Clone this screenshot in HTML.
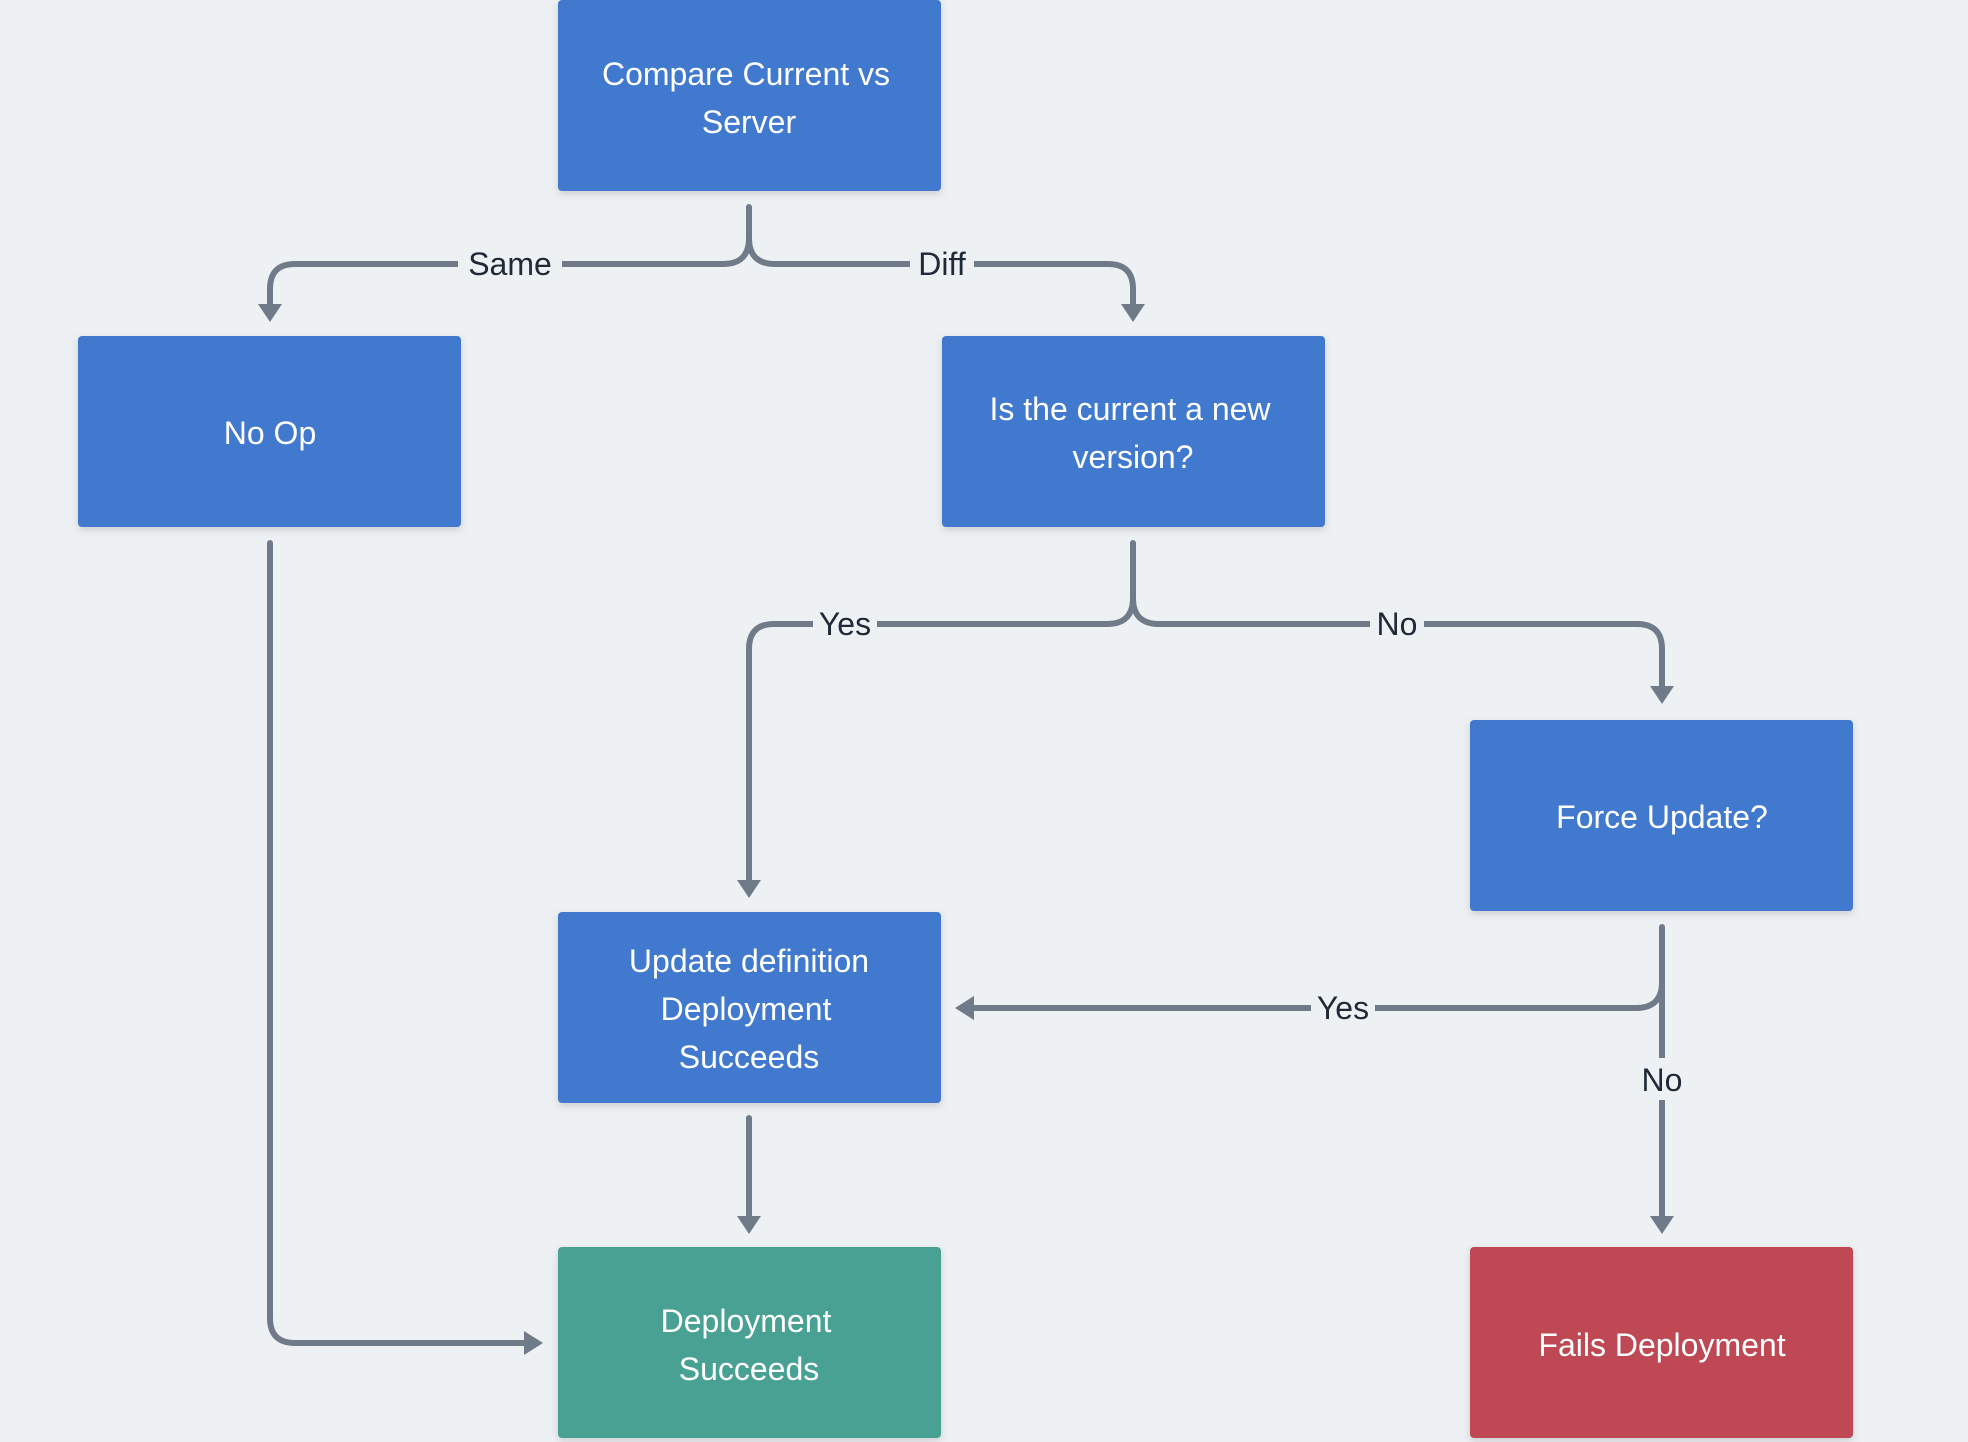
<!DOCTYPE html>
<html><head><meta charset="utf-8"><style>
html,body{margin:0;padding:0;background:#eef1f4;}
svg{display:block}
.n{font-family:"Liberation Sans",sans-serif;font-size:32px;fill:#fff;text-anchor:middle}
.l{font-family:"Liberation Sans",sans-serif;font-size:32px;fill:#1f2937;text-anchor:middle}
.c{fill:none;stroke:#707b89;stroke-width:6;stroke-linecap:round;stroke-linejoin:round}
.a{fill:#707b89}
</style></head><body>
<svg width="1968" height="1442" viewBox="0 0 1968 1442">
<rect width="1968" height="1442" fill="#eef1f4"/>
<defs><filter id="s" x="-10%" y="-10%" width="120%" height="130%"><feDropShadow dx="0" dy="3" stdDeviation="4" flood-opacity="0.15"/></filter></defs>
<g filter="url(#s)">
<rect x="558" y="0" width="383" height="191" rx="4" fill="#4179ce"/>
<rect x="78" y="336" width="383" height="191" rx="4" fill="#4179ce"/>
<rect x="942" y="336" width="383" height="191" rx="4" fill="#4179ce"/>
<rect x="1470" y="720" width="383" height="191" rx="4" fill="#4179ce"/>
<rect x="558" y="912" width="383" height="191" rx="4" fill="#4179ce"/>
<rect x="558" y="1247" width="383" height="191" rx="4" fill="#4aa194"/>
<rect x="1470" y="1247" width="383" height="191" rx="4" fill="#be4a55"/>
</g>
<text class="n" x="746" y="85">Compare Current vs</text>
<text class="n" x="749" y="133">Server</text>
<text class="n" x="270" y="444">No Op</text>
<text class="n" x="1130" y="420">Is the current a new</text>
<text class="n" x="1133" y="468">version?</text>
<text class="n" x="1662" y="828">Force Update?</text>
<text class="n" x="749" y="972">Update definition</text>
<text class="n" x="746" y="1020">Deployment</text>
<text class="n" x="749" y="1068">Succeeds</text>
<text class="n" x="746" y="1332">Deployment</text>
<text class="n" x="749" y="1380">Succeeds</text>
<text class="n" x="1662" y="1356">Fails Deployment</text>

<path class="c" d="M749 207 V238 Q749 264 723 264 H295 Q270 264 270 289 V308"/>
<path class="c" d="M749 238 Q749 264 775 264 H1108 Q1133 264 1133 289 V308"/>
<polygon class="a" points="258,304 282,304 270,322"/>
<polygon class="a" points="1121,304 1145,304 1133,322"/>
<rect x="458" y="246" width="104" height="36" fill="#eef1f4"/>
<text class="l" x="510" y="275">Same</text>
<rect x="910" y="246" width="64" height="36" fill="#eef1f4"/>
<text class="l" x="942" y="275">Diff</text>

<path class="c" d="M270 543 V1318 Q270 1343 295 1343 H526"/>
<polygon class="a" points="524,1331 524,1355 543,1343"/>

<path class="c" d="M1133 543 V598 Q1133 624 1107 624 H774 Q749 624 749 649 V882"/>
<path class="c" d="M1133 598 Q1133 624 1159 624 H1637 Q1662 624 1662 649 V688"/>
<polygon class="a" points="737,880 761,880 749,898"/>
<polygon class="a" points="1650,686 1674,686 1662,704"/>
<rect x="813" y="606" width="64" height="36" fill="#eef1f4"/>
<text class="l" x="845" y="635">Yes</text>
<rect x="1370" y="606" width="54" height="36" fill="#eef1f4"/>
<text class="l" x="1397" y="635">No</text>

<path class="c" d="M1662 927 V982 Q1662 1008 1636 1008 H972"/>
<polygon class="a" points="974,996 974,1020 955,1008"/>
<path class="c" d="M1662 982 V1218"/>
<polygon class="a" points="1650,1216 1674,1216 1662,1234"/>
<rect x="1311" y="990" width="64" height="36" fill="#eef1f4"/>
<text class="l" x="1343" y="1019">Yes</text>
<rect x="1633" y="1058" width="58" height="42" fill="#eef1f4"/>
<text class="l" x="1662" y="1091">No</text>

<path class="c" d="M749 1118 V1218"/>
<polygon class="a" points="737,1216 761,1216 749,1234"/>
</svg>
</body></html>
